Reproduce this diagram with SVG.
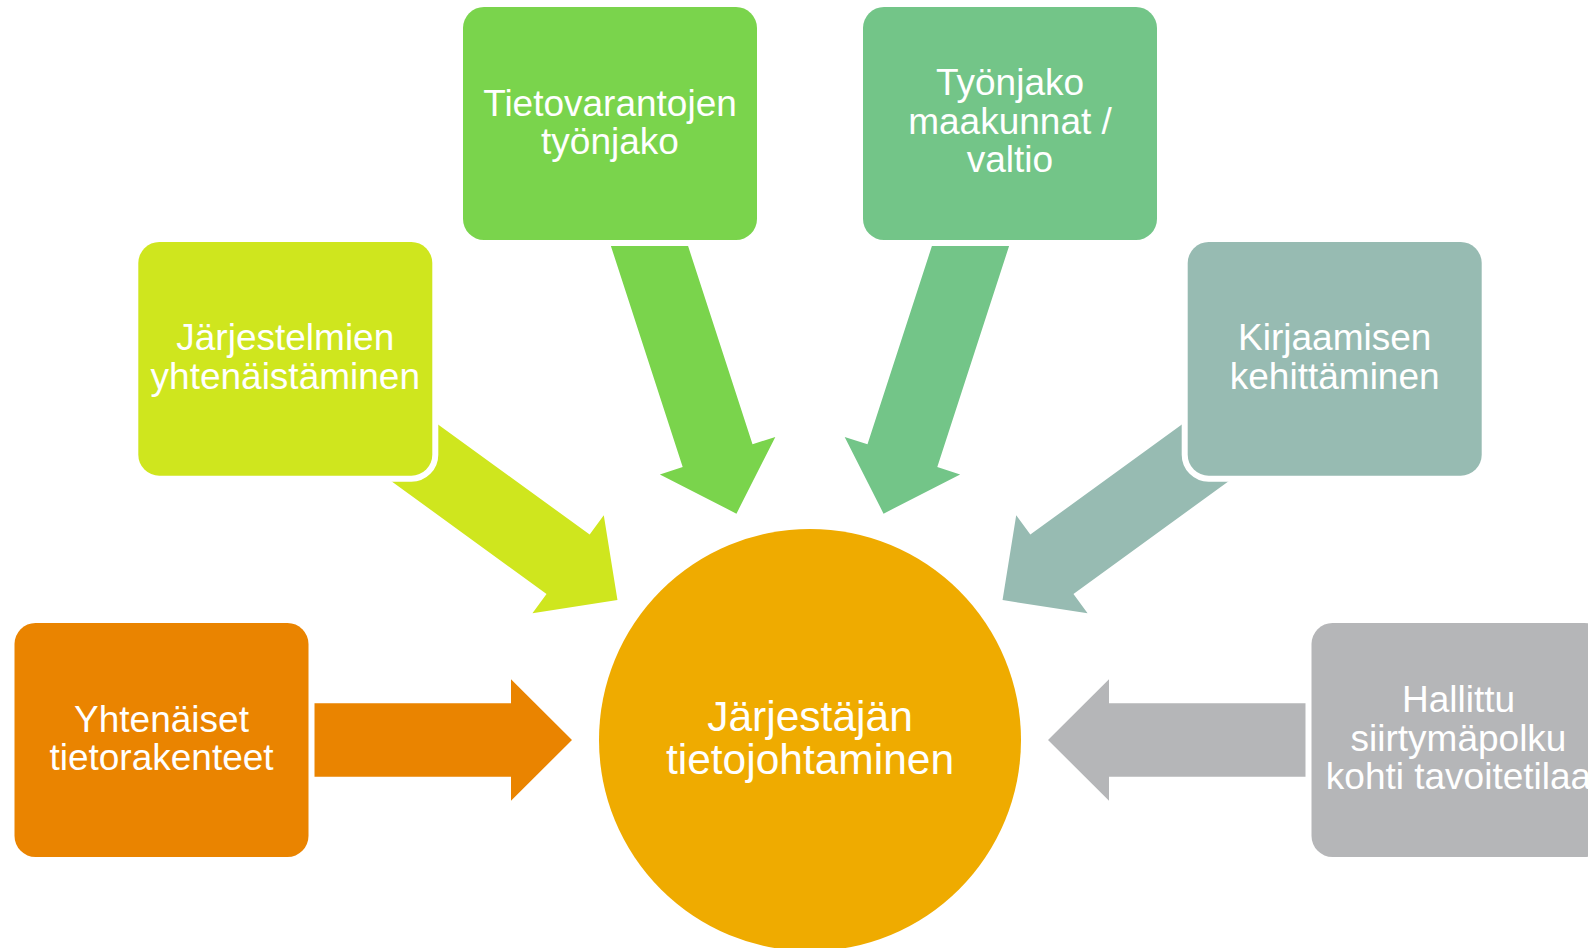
<svg xmlns="http://www.w3.org/2000/svg" width="1588" height="948" viewBox="0 0 1588 948">
<defs>
<style>
.box{stroke:#ffffff;stroke-width:12;paint-order:stroke}
.t{font-family:"Liberation Sans",Arial,sans-serif;font-size:37px;fill:#ffffff;text-anchor:middle}
.tc{font-family:"Liberation Sans",Arial,sans-serif;font-size:42.5px;fill:#ffffff;text-anchor:middle}
</style>
<path id="arr" d="M -600 -36.7 L -299 -36.7 L -299 -60.7 L -238 0 L -299 60.7 L -299 36.7 L -600 36.7 Z"/>
</defs>
<rect width="1588" height="948" fill="#ffffff"/>
<g id="connectors">
<use href="#arr" fill="#EA8400" transform="translate(810,740) rotate(0)"/>
<use href="#arr" fill="#CFE61E" transform="translate(810,740) rotate(36)"/>
<use href="#arr" fill="#7AD44C" transform="translate(810,740) rotate(72)"/>
<use href="#arr" fill="#73C588" transform="translate(810,740) rotate(108)"/>
<use href="#arr" fill="#97BBB2" transform="translate(810,740) rotate(144)"/>
<use href="#arr" fill="#B5B6B8" transform="translate(810,740) rotate(180)"/>
</g>
<g id="center">
<circle cx="810" cy="740" r="211" fill="#EFAB00"/>
<text class="tc"><tspan x="810" y="730.7">Järjestäjän</tspan><tspan x="810" y="774">tietojohtaminen</tspan></text>
</g>
<g id="yhtenaiset">
<rect class="box" x="14.5" y="623" width="294" height="234" rx="21" fill="#EA8400"/>
<text class="t"><tspan x="161.5" y="731.5">Yhtenäiset</tspan><tspan x="161.5" y="769.8">tietorakenteet</tspan></text>
</g>
<g id="jarjestelmien">
<rect class="box" x="138.3" y="242" width="294" height="233.7" rx="21" fill="#CFE61E"/>
<text class="t"><tspan x="285.3" y="350.2">Järjestelmien</tspan><tspan x="285.3" y="388.5">yhtenäistäminen</tspan></text>
</g>
<g id="tietovarantojen">
<rect class="box" x="463" y="7" width="294" height="233" rx="21" fill="#7AD44C"/>
<text class="t"><tspan x="610" y="115.5">Tietovarantojen</tspan><tspan x="610" y="153.5">työnjako</tspan></text>
</g>
<g id="tyonjako">
<rect class="box" x="863" y="7" width="294" height="233" rx="21" fill="#73C588"/>
<text class="t"><tspan x="1010" y="95.3">Työnjako</tspan><tspan x="1010" y="133.6">maakunnat /</tspan><tspan x="1010" y="171.9">valtio</tspan></text>
</g>
<g id="kirjaamisen">
<rect class="box" x="1187.7" y="242" width="294" height="233.7" rx="21" fill="#97BBB2"/>
<text class="t"><tspan x="1334.7" y="350.2">Kirjaamisen</tspan><tspan x="1334.7" y="388.5">kehittäminen</tspan></text>
</g>
<g id="hallittu">
<rect class="box" x="1311.5" y="623" width="294" height="234" rx="21" fill="#B5B6B8"/>
<text class="t"><tspan x="1458.5" y="712.2">Hallittu</tspan><tspan x="1458.5" y="750.5">siirtymäpolku</tspan><tspan x="1458.5" y="788.8">kohti tavoitetilaa</tspan></text>
</g>
</svg>
